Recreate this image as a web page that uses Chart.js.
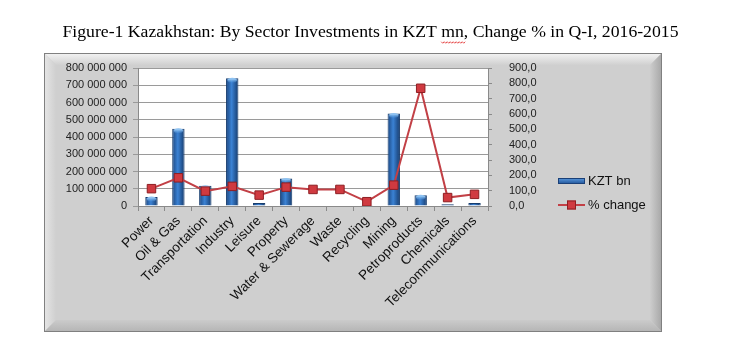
<!DOCTYPE html>
<html>
<head>
<meta charset="utf-8">
<script src="https://cdn.jsdelivr.net/npm/chart.js@4/dist/chart.umd.min.js"></script>
<style>
  html, body { margin: 0; padding: 0; background: #ffffff; }
  #wrap { width: 741px; height: 359px; position: relative; }
</style>
</head>
<body>
<div id="wrap"><canvas id="c" width="741" height="359"></canvas></div>
<script>
const titleText = 'Figure-1 Kazakhstan: By Sector Investments in KZT mn, Change % in Q-I, 2016-2015';
const categories = ['Power', 'Oil & Gas', 'Transportation', 'Industry', 'Leisure', 'Property',
  'Water & Sewerage', 'Waste', 'Recycling', 'Mining', 'Petroproducts', 'Chemicals', 'Telecommunications'];
const kztValues = [52000000, 448000000, 118000000, 741000000, 18000000, 160000000,
  3000000, 3000000, 1000000, 537000000, 62000000, 10000000, 18000000];
const pctChange = [113, 184, 97, 128, 71, 123, 108, 108, 28, 136, 768, 55, 76];
const seriesNames = ['KZT bn', '% change'];

const PANEL = { x0: 44, y0: 53, x1: 662, y1: 332 };
const TITLE_FONT = '17.7px "Liberation Serif", "Times New Roman", serif';

function drawPanel(ctx) {
  const { x0, y0, x1, y1 } = PANEL;
  const b = 12;
  ctx.save();
  ctx.fillStyle = '#cfcfcf';
  ctx.fillRect(x0, y0, x1 - x0, y1 - y0);
  let g;
  g = ctx.createLinearGradient(0, y0, 0, y0 + b);
  g.addColorStop(0, '#f4f4f4'); g.addColorStop(1, '#d0d0d0');
  ctx.fillStyle = g;
  ctx.beginPath(); ctx.moveTo(x0, y0); ctx.lineTo(x1, y0); ctx.lineTo(x1 - b, y0 + b); ctx.lineTo(x0 + b, y0 + b); ctx.closePath(); ctx.fill();
  g = ctx.createLinearGradient(x0, 0, x0 + b, 0);
  g.addColorStop(0, '#e6e6e6'); g.addColorStop(1, '#cfcfcf');
  ctx.fillStyle = g;
  ctx.beginPath(); ctx.moveTo(x0, y0); ctx.lineTo(x0 + b, y0 + b); ctx.lineTo(x0 + b, y1 - b); ctx.lineTo(x0, y1); ctx.closePath(); ctx.fill();
  g = ctx.createLinearGradient(0, y1 - b, 0, y1);
  g.addColorStop(0, '#cbcbcb'); g.addColorStop(1, '#b4b4b4');
  ctx.fillStyle = g;
  ctx.beginPath(); ctx.moveTo(x0, y1); ctx.lineTo(x0 + b, y1 - b); ctx.lineTo(x1 - b, y1 - b); ctx.lineTo(x1, y1); ctx.closePath(); ctx.fill();
  g = ctx.createLinearGradient(x1 - b, 0, x1, 0);
  g.addColorStop(0, '#cdcdcd'); g.addColorStop(1, '#a6a6a6');
  ctx.fillStyle = g;
  ctx.beginPath(); ctx.moveTo(x1, y0); ctx.lineTo(x1, y1); ctx.lineTo(x1 - b, y1 - b); ctx.lineTo(x1 - b, y0 + b); ctx.closePath(); ctx.fill();
  ctx.strokeStyle = '#808080';
  ctx.lineWidth = 1;
  ctx.strokeRect(x0 + 0.5, y0 + 0.5, x1 - x0 - 1, y1 - y0 - 1);
  ctx.restore();
}

const bgPlugin = {
  id: 'bg',
  beforeDraw(chart) {
    const ctx = chart.ctx;
    drawPanel(ctx);
    const a = chart.chartArea;
    ctx.save();
    ctx.fillStyle = '#ffffff';
    ctx.fillRect(a.left, a.top, a.right - a.left, a.bottom - a.top);
    ctx.restore();
  },
  afterDraw(chart) {
    // spell-check style squiggle under "mn" in the title
    const ctx = chart.ctx;
    const t = chart.titleBlock;
    if (!t) return;
    ctx.save();
    ctx.font = TITLE_FONT;
    const full = ctx.measureText(titleText).width;
    const pre = ctx.measureText('Figure-1 Kazakhstan: By Sector Investments in KZT ').width;
    const w = ctx.measureText('mn').width;
    const x0 = (t.left + t.right) / 2 - full / 2 + pre;
    const y = t.top + 21.5 + 17.7 * 1.2 - 0.5;
    ctx.strokeStyle = '#e02020';
    ctx.lineWidth = 0.8;
    ctx.beginPath();
    for (let i = 0; i <= Math.ceil(w / 1.5); i++) {
      const xx = x0 + i * 1.5;
      const yy = y + (i % 2 ? 1 : -0.5);
      if (i === 0) ctx.moveTo(xx, yy); else ctx.lineTo(xx, yy);
    }
    ctx.stroke();
    ctx.restore();
  }
};

function barGradient(ctx, x, w) {
  const g = ctx.createLinearGradient(x - w / 2, 0, x + w / 2, 0);
  g.addColorStop(0, '#1b4680');
  g.addColorStop(0.45, '#3b82d4');
  g.addColorStop(1, '#153a6c');
  return g;
}

const barShadePlugin = {
  id: 'barShade',
  beforeDatasetsDraw(chart) {
    chart.data.datasets.forEach((ds, i) => {
      if (ds.type !== 'bar') return;
      const meta = chart.getDatasetMeta(i);
      meta.data.forEach(el => {
        el.options = Object.assign({}, el.options, { backgroundColor: barGradient(chart.ctx, el.x, el.width) });
      });
    });
  },
  afterDatasetDraw(chart, args) {
    const ds = chart.data.datasets[args.index];
    if (ds.type !== 'bar') return;
    const ctx = chart.ctx;
    ctx.save();
    args.meta.data.forEach(el => {
      const h = el.base - el.y;
      if (h < 6) return;
      const w = el.width;
      const g = ctx.createLinearGradient(0, el.y + 1, 0, el.y + 5);
      g.addColorStop(0, '#8fc3f2'); g.addColorStop(1, 'rgba(90,160,230,0)');
      ctx.fillStyle = g;
      ctx.beginPath();
      ctx.ellipse(el.x, el.y + 2, w / 2 - 1.5, 2.5, 0, 0, Math.PI * 2);
      ctx.fill();
    });
    ctx.restore();
  }
};

const legendPlugin = {
  id: 'customLegend',
  afterDraw(chart) {
    const ctx = chart.ctx;
    const x = 558, tx = 588;
    ctx.save();
    let y = 181;
    const g = ctx.createLinearGradient(0, y - 3, 0, y + 3);
    g.addColorStop(0, '#5b9be0'); g.addColorStop(1, '#1f5296');
    ctx.fillStyle = g;
    ctx.fillRect(x, y - 3, 27, 6);
    ctx.strokeStyle = '#1a4078'; ctx.lineWidth = 1;
    ctx.strokeRect(x + 0.5, y - 2.5, 26, 5);
    ctx.fillStyle = '#111111';
    ctx.font = '13px "Liberation Sans", Arial, sans-serif';
    ctx.textBaseline = 'middle';
    ctx.fillText(seriesNames[0], tx, y);
    y = 205;
    ctx.strokeStyle = '#c24046'; ctx.lineWidth = 2;
    ctx.beginPath(); ctx.moveTo(x, y); ctx.lineTo(x + 27, y); ctx.stroke();
    ctx.fillStyle = '#d03a40'; ctx.strokeStyle = '#8e1e22'; ctx.lineWidth = 1;
    ctx.fillRect(x + 9, y - 4.5, 9, 9);
    ctx.strokeRect(x + 9.5, y - 4, 8, 8);
    ctx.fillStyle = '#111111';
    ctx.fillText(seriesNames[1], tx, y);
    ctx.restore();
  }
};

function fmtSpace(v) {
  return String(v).replace(/\B(?=(\d{3})+(?!\d))/g, ' ');
}
function fmtComma(v) {
  return Number(v).toFixed(1).replace('.', ',');
}

const tickFont = { family: '"Liberation Sans", Arial, sans-serif', size: 11 };

new Chart(document.getElementById('c'), {
  data: {
    labels: categories,
    datasets: [
      {
        type: 'line',
        label: seriesNames[1],
        data: pctChange,
        yAxisID: 'y1',
        order: 0,
        borderColor: '#c24046',
        borderWidth: 2,
        pointStyle: 'rect',
        pointRadius: 6,
        pointBackgroundColor: '#d03a40',
        pointBorderColor: '#8e1e22',
        pointBorderWidth: 1,
        tension: 0
      },
      {
        type: 'bar',
        label: seriesNames[0],
        data: kztValues,
        yAxisID: 'y',
        order: 1,
        backgroundColor: '#2f6db5',
        borderColor: '#163c6e',
        borderWidth: 1,
        barPercentage: 0.46,
        categoryPercentage: 1
      }
    ]
  },
  options: {
    responsive: false,
    animation: false,
    layout: { padding: { left: 0, right: 0, top: 0, bottom: 0 } },
    plugins: {
      legend: { display: false },
      tooltip: { enabled: false },
      title: {
        display: true,
        text: titleText,
        color: '#000000',
        font: { family: '"Liberation Serif", "Times New Roman", serif', size: 17.7, weight: 'normal' },
        padding: { top: 21.5, bottom: 25.3 }
      }
    },
    scales: {
      x: {
        offset: true,
        grid: { display: true, offset: true, drawOnChartArea: false, drawTicks: true, tickLength: 5, color: '#8a8a8a' },
        border: { display: true, color: '#8a8a8a' },
        ticks: {
          color: '#111111',
          font: { family: '"Liberation Sans", Arial, sans-serif', size: 13.5 },
          minRotation: 45, maxRotation: 45, autoSkip: false, padding: 2
        },
        afterFit(s) { s.height = 359 - 206; }
      },
      y: {
        position: 'left',
        min: 0, max: 800000000,
        ticks: { stepSize: 100000000, autoSkip: false, color: '#222222', font: tickFont, padding: 6, callback: fmtSpace },
        grid: { color: '#9a9a9a', tickLength: 5, drawTicks: true },
        border: { display: true, color: '#8a8a8a' },
        afterFit(s) { s.width = 138; }
      },
      y1: {
        position: 'right',
        min: 0, max: 900,
        ticks: { stepSize: 100, autoSkip: false, color: '#222222', font: tickFont, padding: 17, callback: fmtComma },
        grid: { drawOnChartArea: false, tickLength: 4, color: '#8a8a8a' },
        border: { display: true, color: '#8a8a8a' },
        afterFit(s) { s.width = 741 - 488; }
      }
    }
  },
  plugins: [bgPlugin, barShadePlugin, legendPlugin]
});
</script>
</body>
</html>
